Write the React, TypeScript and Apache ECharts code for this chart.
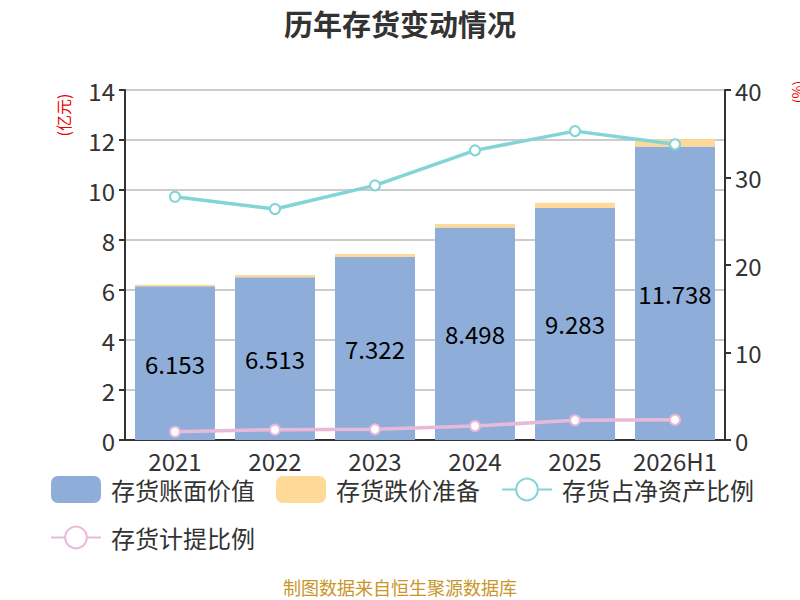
import React, { useEffect, useRef } from 'react';
import * as echarts from 'echarts';

const categories = ['2021', '2022', '2023', '2024', '2025', '2026H1'];
const bookValue = [6.153, 6.513, 7.322, 8.498, 9.283, 11.738];
const impairment = [0.06, 0.09, 0.12, 0.14, 0.21, 0.29];
const netAssetRatio = [27.8, 26.4, 29.1, 33.1, 35.3, 33.8];
const provisionRatio = [0.95, 1.18, 1.22, 1.6, 2.25, 2.32];

const FONT = '"Noto Sans CJK SC", "Noto Sans", sans-serif';

const App: React.FC = () => {
  const chartRef = useRef<HTMLDivElement>(null);

  useEffect(() => {
    if (!chartRef.current) return;
    const chart = echarts.init(chartRef.current, undefined, { renderer: 'svg' });

    const option: echarts.EChartsOption = {
      animation: false,
      textStyle: { fontFamily: FONT },
      title: {
        text: '历年存货变动情况',
        left: 'center',
        top: 3,
        textStyle: { fontSize: 29, fontWeight: 'bold', color: '#333', fontFamily: FONT }
      },
      legend: {
        left: 45,
        top: 471,
        right: 5,
        itemWidth: 50,
        itemHeight: 27,
        itemGap: 21,
        textStyle: { fontSize: 24, color: '#333', fontFamily: FONT, padding: [0, 0, 0, 5] },
        data: [
          { name: '存货账面价值', icon: 'roundRect' },
          { name: '存货跌价准备', icon: 'roundRect' },
          { name: '存货占净资产比例' },
          { name: '存货计提比例' }
        ]
      },
      grid: { left: 125, right: 75, top: 90, bottom: 160 },
      xAxis: {
        type: 'category',
        data: categories,
        axisLine: { lineStyle: { color: '#333', width: 2 } },
        axisTick: { length: 6, lineStyle: { width: 2 } },
        axisLabel: { fontSize: 24, color: '#333', margin: 8, interval: 0 }
      },
      yAxis: [
        {
          type: 'value',
          min: 0,
          max: 14,
          interval: 2,
          axisLine: { show: true, lineStyle: { color: '#333', width: 2 } },
          axisTick: { show: true, length: 6, lineStyle: { width: 2 } },
          axisLabel: { fontSize: 24, color: '#333', margin: 10 },
          splitLine: { lineStyle: { color: '#ccc', width: 2 } }
        },
        {
          type: 'value',
          min: 0,
          max: 40,
          interval: 10,
          axisLine: { show: true, lineStyle: { color: '#333', width: 2 } },
          axisTick: { show: true, length: 6, lineStyle: { width: 2 } },
          axisLabel: { fontSize: 24, color: '#333', margin: 10 },
          splitLine: { show: false }
        }
      ],
      series: [
        {
          name: '存货账面价值',
          type: 'bar',
          stack: 'inv',
          barWidth: '80%',
          data: bookValue,
          itemStyle: { color: '#8eaed9' },
          label: {
            show: true,
            position: 'inside',
            fontSize: 24,
            color: '#000',
            fontFamily: FONT
          }
        },
        {
          name: '存货跌价准备',
          type: 'bar',
          stack: 'inv',
          barWidth: '80%',
          data: impairment,
          itemStyle: { color: '#ffd997' }
        },
        {
          name: '存货占净资产比例',
          type: 'line',
          yAxisIndex: 1,
          data: netAssetRatio,
          symbol: 'emptyCircle',
          symbolSize: 10,
          lineStyle: { color: '#83d4d6', width: 3.5 },
          itemStyle: { color: '#83d4d6', borderWidth: 2 }
        },
        {
          name: '存货计提比例',
          type: 'line',
          yAxisIndex: 1,
          data: provisionRatio,
          symbol: 'emptyCircle',
          symbolSize: 10,
          lineStyle: { color: '#e8b9d8', width: 3.5 },
          itemStyle: { color: '#e8b9d8', borderWidth: 2 }
        }
      ],
      graphic: [
        {
          type: 'text',
          x: 63,
          y: 115,
          rotation: Math.PI / 2,
          style: {
            text: '(亿元)',
            fill: '#e00',
            fontSize: 16,
            fontFamily: FONT,
            align: 'center',
            verticalAlign: 'middle'
          }
        },
        {
          type: 'text',
          x: 797,
          y: 92,
          rotation: Math.PI / 2,
          style: {
            text: '(%)',
            fill: '#e00',
            fontSize: 14,
            fontFamily: FONT,
            align: 'center',
            verticalAlign: 'middle'
          }
        },
        {
          type: 'text',
          left: 'center',
          top: 578,
          style: {
            text: '制图数据来自恒生聚源数据库',
            fill: '#c8962a',
            fontSize: 18,
            fontFamily: FONT
          }
        }
      ]
    };

    chart.setOption(option);
    return () => {
      chart.dispose();
    };
  }, []);

  return <div ref={chartRef} style={{ width: 800, height: 600, position: 'absolute', left: 0, top: 0 }} />;
};

export default App;
